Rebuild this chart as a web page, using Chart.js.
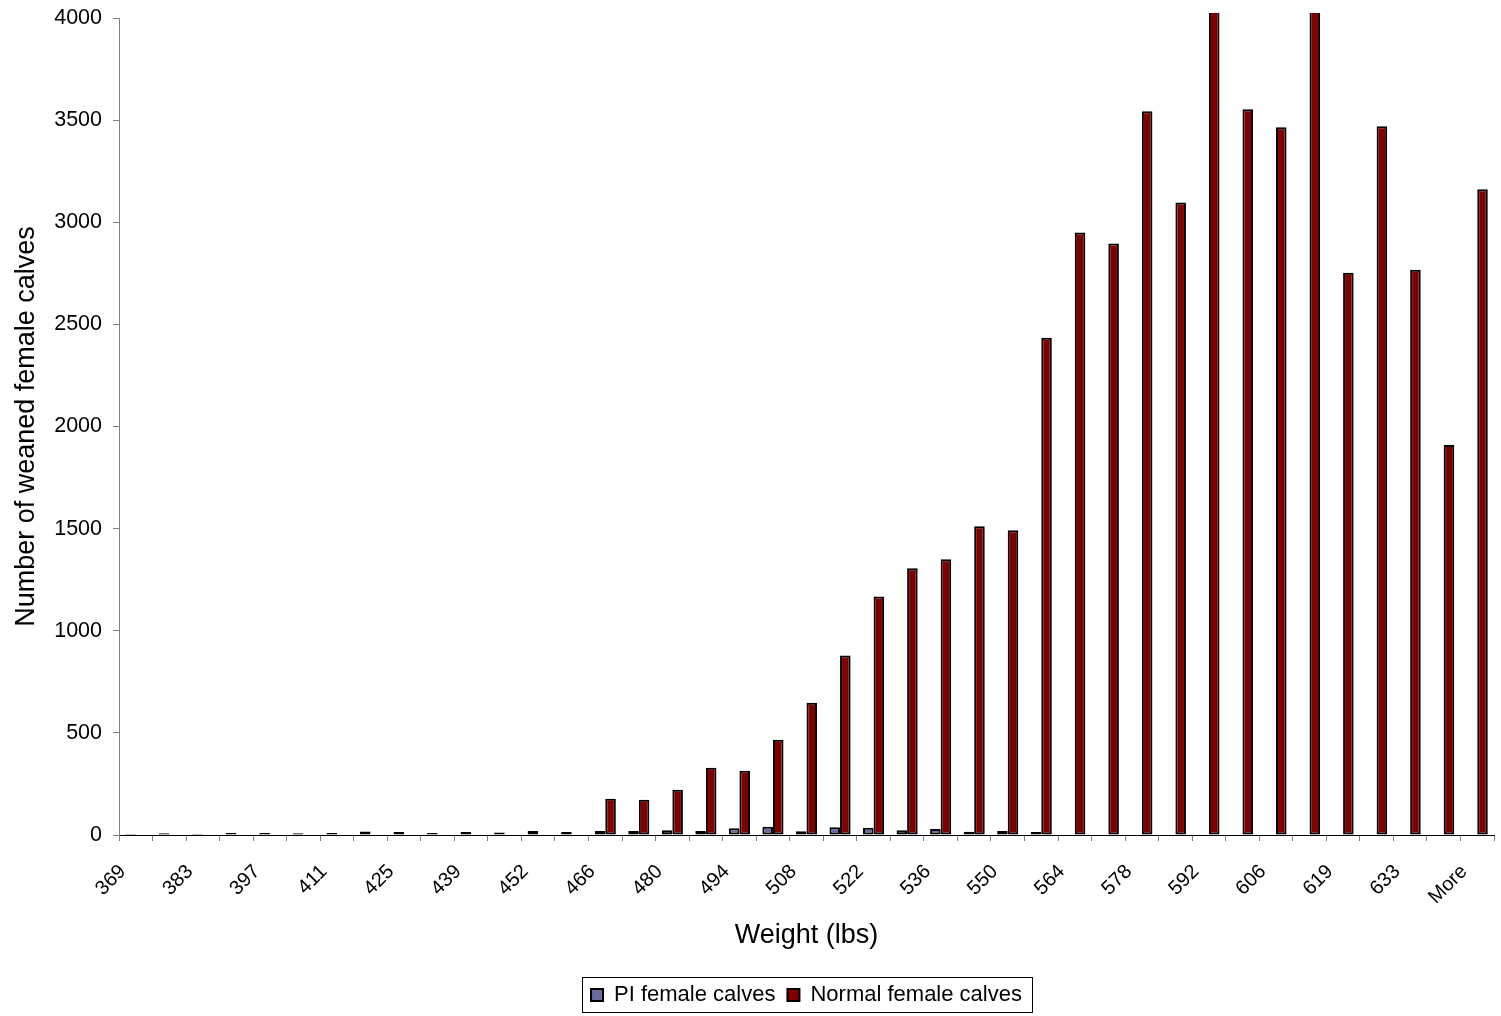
<!DOCTYPE html>
<html>
<head>
<meta charset="utf-8">
<script src="https://cdn.jsdelivr.net/npm/chart.js@4.4.1/dist/chart.umd.min.js"></script>
<style>
  html, body { margin: 0; padding: 0; background: #ffffff; overflow: hidden; }
  #wrap { width: 1501px; height: 1016px; }
</style>
</head>
<body>
<div id="wrap"><canvas id="c" width="1501" height="1016"></canvas></div>
<script>
const categories = ['369','376','383','390','397','404','411','418','425','432','439','445','452','459','466','473','480','487','494','501','508','515','522','529','536','543','550','557','564','571','578','585','592','599','606','612','619','626','633','640','More'];
const piFemale = [5,8,5,10,10,8,10,17,15,10,15,12,20,15,20,20,23,20,33,41,18,38,36,23,29,16,20,15,0,0,0,0,0,0,0,0,0,0,0,0,0];
const normalFemale = [0,0,0,0,0,0,0,0,0,0,0,0,0,0,177,172,221,329,314,466,648,879,1168,1306,1350,1512,1492,2434,2950,2896,3544,3097,4100,3553,3465,4100,2753,3470,2768,1909,3161];
const yTicks = [0,500,1000,1500,2000,2500,3000,3500,4000];
const seriesNames = ['PI female calves','Normal female calves'];

const FONT = '"Liberation Sans", Arial, Helvetica, sans-serif';

const legendPlacer = {
  id: 'legendPlacer',
  afterLayout(chart) {
    const lg = chart.legend;
    if (!lg) return;
    const c = (chart.chartArea.left + chart.chartArea.right) / 2;
    const w = lg.right - lg.left;
    lg.left = c - w / 2;
    lg.right = c + w / 2;
  },
  afterDraw(chart) {
    const lg = chart.legend;
    if (!lg || !lg.legendHitBoxes || !lg.legendHitBoxes.length) return;
    const hb = lg.legendHitBoxes;
    let l = Infinity, r = -Infinity, t = Infinity, b = -Infinity;
    hb.forEach(h => { l = Math.min(l, h.left); r = Math.max(r, h.left + h.width); t = Math.min(t, h.top); b = Math.max(b, h.top + h.height); });
    const ctx = chart.ctx;
    ctx.save();
    ctx.strokeStyle = '#000000';
    ctx.lineWidth = 1;
    ctx.strokeRect(Math.round(l - 9) + 0.5, Math.round(t - 7) + 0.5, Math.round(r - l + 19), Math.round(b - t + 13));
    ctx.restore();
  }
};

new Chart(document.getElementById('c'), {
  type: 'bar',
  data: {
    labels: categories,
    datasets: [
      { label: seriesNames[0], data: piFemale, backgroundColor: '#6b6b9e', borderColor: '#000000', borderWidth: 2, borderSkipped: false, clip: {left: 0, top: 5, right: 0, bottom: 0} },
      { label: seriesNames[1], data: normalFemale, backgroundColor: '#800000', borderColor: '#000000', borderWidth: 2, borderSkipped: false, clip: {left: 0, top: 5, right: 0, bottom: 0} }
    ]
  },
  options: {
    responsive: false,
    animation: false,
    datasets: { bar: { categoryPercentage: 0.63, barPercentage: 1.0 } },
    layout: { padding: { top: 18, right: 7, left: 0, bottom: 0 } },
    plugins: {
      tooltip: { enabled: false },
      legend: {
        position: 'bottom',
        labels: { color: '#000', font: { family: FONT, size: 22 }, boxWidth: 12, boxHeight: 12, padding: 12 }
      }
    },
    scales: {
      x: {
        offset: true,
        grid: { display: true, drawOnChartArea: false, drawTicks: true, tickLength: 6, color: '#808080', offset: true },
        border: { color: '#000000', width: 1 },
        ticks: {
          autoSkip: false, maxRotation: 45, minRotation: 45, color: '#000', padding: 19, labelOffset: -13,
          font: { family: FONT, size: 20 },
          callback: function(v, i) { return i % 2 === 0 ? categories[i] : ''; }
        },
        title: { display: true, text: 'Weight (lbs)', color: '#000', font: { family: FONT, size: 27 }, padding: { top: 0, bottom: 20 } },
        afterFit: function(s) { s.height = 137; s.paddingLeft = 0; s.paddingRight = 0; s.paddingTop = 0; s.paddingBottom = 0; }
      },
      y: {
        min: 0, max: 4000,
        grid: { display: true, drawOnChartArea: false, drawTicks: true, tickLength: 6, color: '#808080' },
        border: { color: '#808080', width: 1 },
        afterBuildTicks: function(s) { s.ticks = yTicks.map(v => ({ value: v })); },
        ticks: { color: '#000', padding: 11, font: { family: FONT, size: 21.5 }, callback: function(v) { return String(v); } },
        title: { display: true, text: 'Number of weaned female calves', color: '#000', font: { family: FONT, size: 27 }, padding: { top: 10, bottom: 0 } },
        afterFit: function(s) { s.width = 119; s.paddingTop = 0; s.paddingBottom = 0; s.paddingLeft = 0; s.paddingRight = 0; }
      }
    }
  },
  plugins: [legendPlacer]
});
</script>
</body>
</html>
